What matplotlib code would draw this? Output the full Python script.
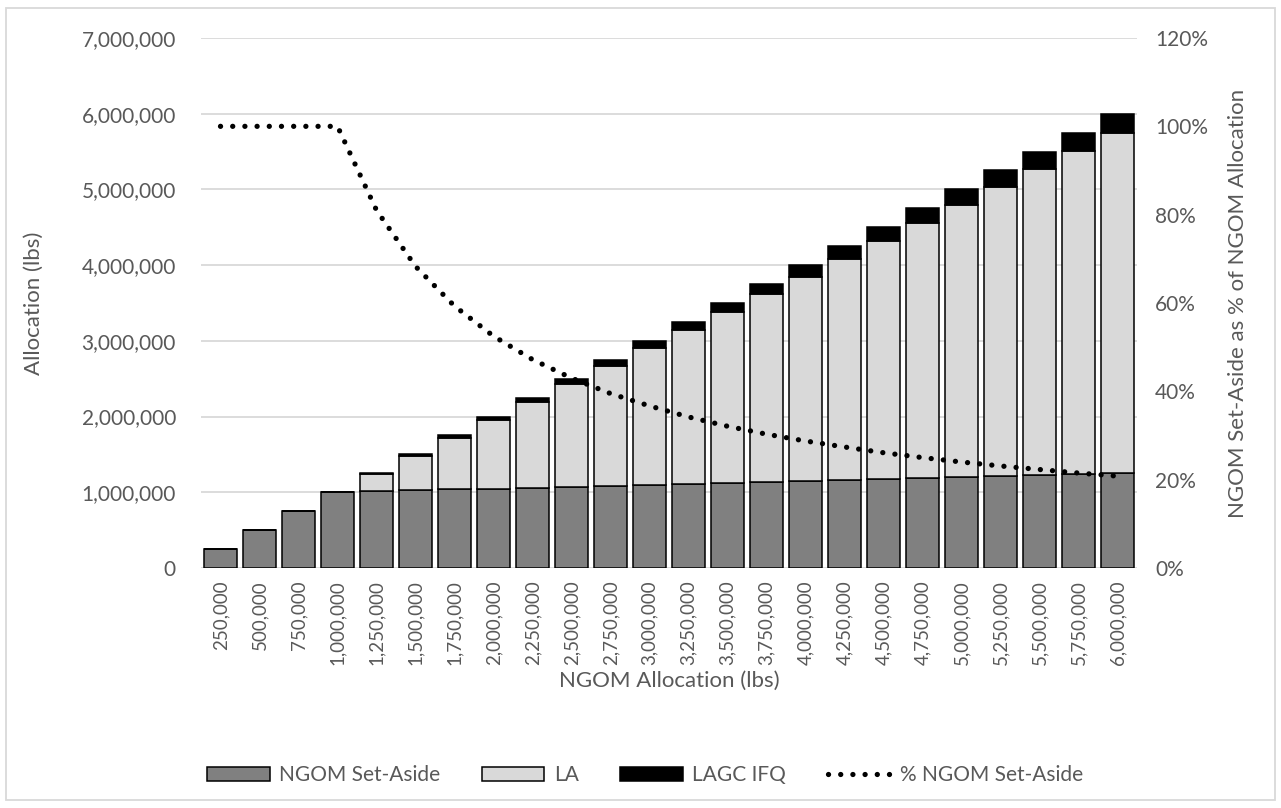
import matplotlib
matplotlib.use("Agg")
import matplotlib.pyplot as plt
from matplotlib.ticker import FuncFormatter, MultipleLocator
from matplotlib.patches import Rectangle

categories = ["250,000", "500,000", "750,000", "1,000,000", "1,250,000", "1,500,000",
              "1,750,000", "2,000,000", "2,250,000", "2,500,000", "2,750,000", "3,000,000",
              "3,250,000", "3,500,000", "3,750,000", "4,000,000", "4,250,000", "4,500,000",
              "4,750,000", "5,000,000", "5,250,000", "5,500,000", "5,750,000", "6,000,000"]

ngom_set_aside = [250000, 500000, 750000, 1000000, 1012500, 1025000, 1037500, 1050000,
                  1062500, 1075000, 1087500, 1100000, 1112500, 1125000, 1137500, 1150000,
                  1162500, 1175000, 1187500, 1200000, 1212500, 1225000, 1237500, 1250000]
la = [0, 0, 0, 0, 225000, 450000, 675000, 900000, 1125000, 1350000, 1575000, 1800000,
      2025000, 2250000, 2475000, 2700000, 2925000, 3150000, 3375000, 3600000, 3825000,
      4050000, 4275000, 4500000]
lagc_ifq = [0, 0, 0, 0, 12500, 25000, 37500, 50000, 62500, 75000, 87500, 100000, 112500,
            125000, 137500, 150000, 162500, 175000, 187500, 200000, 212500, 225000,
            237500, 250000]
pct_set_aside = [100, 100, 100, 100, 81.0, 68.3, 59.3, 52.5, 47.2, 43.0, 39.5, 36.7, 34.2,
                 32.1, 30.3, 28.75, 27.4, 26.1, 25.0, 24.0, 23.1, 22.3, 21.5, 20.8]

FONT = "Lato"
TXT = "#595959"
plt.rcParams["font.family"] = [FONT, "DejaVu Sans"]

fig = plt.figure(figsize=(12.81, 8.08), dpi=100)
ax = fig.add_axes([201/1281, 1-568/808, (1137-201)/1281, (568-38)/808])
ax2 = ax.twinx()

x = list(range(len(categories)))
w = 0.84
ek = dict(edgecolor="black", linewidth=1.1, width=w, zorder=3)
ax.bar(x, ngom_set_aside, color="#808080", label="NGOM Set-Aside", **ek)
ax.bar(x, la, bottom=ngom_set_aside, color="#D9D9D9", label="LA", **ek)
bottom2 = [a + b for a, b in zip(ngom_set_aside, la)]
ax.bar(x, lagc_ifq, bottom=bottom2, color="black", label="LAGC IFQ", **ek)

ax2.plot(x, pct_set_aside, color="black", linewidth=3.8,
         linestyle=(0, (0.01, 2.3)), dash_capstyle="round", solid_capstyle="round",
         label="% NGOM Set-Aside", zorder=5)

ax.set_xlim(-0.5, len(categories) - 0.5)
ax.set_ylim(0, 7000000)
ax2.set_ylim(0, 120)
ax.yaxis.set_major_locator(MultipleLocator(1000000))
ax2.yaxis.set_major_locator(MultipleLocator(20))
ax.yaxis.set_major_formatter(FuncFormatter(lambda v, p: f"{int(v):,}"))
ax2.yaxis.set_major_formatter(FuncFormatter(lambda v, p: f"{int(v)}%"))
ax.set_xticks(x)
ax.set_xticklabels(categories, rotation=90)

ax.grid(axis="y", color="#D9D9D9", linewidth=1.3, zorder=0)
ax.set_axisbelow(True)
for a in (ax, ax2):
    for s in a.spines.values():
        s.set_visible(False)
    a.tick_params(length=0, labelsize=15, labelcolor=TXT)
ax.tick_params(axis="x", labelsize=13.5)
ax.tick_params(axis="y", pad=18)
ax.tick_params(axis="x", pad=9)
ax2.tick_params(axis="y", pad=13)

ax.set_ylabel("Allocation (lbs)", fontsize=16, color=TXT, labelpad=27)
ax2.set_ylabel("NGOM Set-Aside as % of NGOM Allocation", fontsize=16, color=TXT, labelpad=14)
ax.set_xlabel("NGOM Allocation (lbs)", fontsize=16, color=TXT, labelpad=4)

h1, l1 = ax.get_legend_handles_labels()
h2, l2 = ax2.get_legend_handles_labels()
leg = fig.legend(h1 + h2, l1 + l2, loc="center", bbox_to_anchor=(645/1281, 1-775/808),
                 ncol=4, frameon=False, fontsize=15, labelcolor=TXT,
                 handlelength=3.0, handleheight=0.65, columnspacing=2.0, handletextpad=0.45)

fig.patches.append(Rectangle((6/1281, 1-800/808), (1275-6)/1281, (800-8)/808,
                             transform=fig.transFigure, fill=False,
                             edgecolor="#D9D9D9", linewidth=1.3))

fig.savefig("out.png", dpi=100, facecolor="white")
